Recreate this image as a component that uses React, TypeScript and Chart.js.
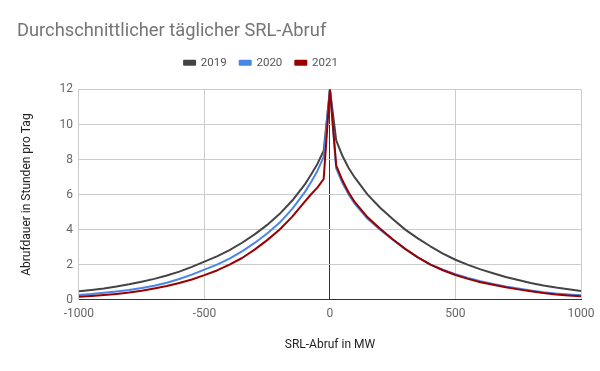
import React, { useEffect, useRef } from 'react';
import { Chart, registerables } from 'chart.js';

Chart.register(...registerables);

// SRL-Abruf in MW (x positions of the data points)
const xMW = [-1000, -950, -900, -850, -800, -750, -700, -650, -600, -550, -500, -450, -400, -350, -300, -250, -200, -150, -100, -75, -50, -25, 0, 25, 50, 75, 100, 150, 200, 250, 300, 350, 400, 450, 500, 550, 600, 650, 700, 750, 800, 850, 900, 950, 1000];
// Abrufdauer in Stunden pro Tag
const s2019 = [0.48, 0.555, 0.64, 0.75, 0.88, 1.03, 1.19, 1.38, 1.6, 1.87, 2.17, 2.47, 2.83, 3.25, 3.73, 4.27, 4.9, 5.66, 6.58, 7.15, 7.75, 8.5, 12, 9.1, 8.2, 7.5, 6.95, 6.0, 5.25, 4.6, 4.0, 3.5, 3.05, 2.63, 2.28, 1.99, 1.73, 1.51, 1.3, 1.12, 0.95, 0.81, 0.69, 0.59, 0.5];
const s2020 = [0.27, 0.32, 0.39, 0.47, 0.56, 0.67, 0.8, 0.97, 1.18, 1.43, 1.72, 2.0, 2.34, 2.76, 3.24, 3.78, 4.4, 5.18, 6.14, 6.72, 7.35, 8.15, 12, 7.5, 6.65, 6.0, 5.45, 4.62, 4.0, 3.42, 2.88, 2.42, 2.02, 1.71, 1.45, 1.24, 1.05, 0.9, 0.76, 0.64, 0.53, 0.43, 0.35, 0.3, 0.25];
const s2021 = [0.17, 0.21, 0.265, 0.33, 0.41, 0.51, 0.64, 0.78, 0.95, 1.15, 1.4, 1.67, 2.0, 2.38, 2.86, 3.4, 4.01, 4.74, 5.6, 6.02, 6.4, 6.89, 12, 7.65, 6.8, 6.1, 5.55, 4.7, 4.05, 3.45, 2.9, 2.42, 2.0, 1.68, 1.41, 1.19, 1.0, 0.85, 0.71, 0.59, 0.48, 0.38, 0.3, 0.245, 0.2];

const seriesNames = ['2019', '2020', '2021'];
const seriesValues = [s2019, s2020, s2021];
const seriesColors = ['#444444', '#4a86e8', '#990000'];

const xTicks = [-1000, -500, 0, 500, 1000];
const yTicks = [0, 2, 4, 6, 8, 10, 12];

const FONT = 'Roboto';

const legendShift = {
  id: 'legendShift',
  afterLayout(chart: any) {
    const lg = chart.legend;
    if (!lg) return;
    const dx = 261 - (lg.left + lg.right) / 2;
    lg.left += dx;
    lg.right += dx;
  },
};

export default function App() {
  const ref = useRef<HTMLCanvasElement | null>(null);

  useEffect(() => {
    if (!ref.current) return;
    const datasets = seriesNames.map((name, i) => ({
      label: name,
      data: xMW.map((x, j) => ({ x, y: seriesValues[i][j] })),
      borderColor: seriesColors[i],
      backgroundColor: seriesColors[i],
      borderWidth: 2,
      pointRadius: 0,
      pointHoverRadius: 0,
      fill: false,
      tension: 0,
      borderJoinStyle: 'round' as const,
      order: seriesNames.length - i,
    }));

    const chart = new Chart(ref.current, {
      type: 'line',
      data: { datasets },
      plugins: [legendShift],
      options: {
        responsive: false,
        animation: false,
        layout: { padding: { left: 17, right: 19, top: 0, bottom: 0 } },
        plugins: {
          title: {
            display: true,
            text: 'Durchschnittlicher täglicher SRL-Abruf',
            align: 'start',
            color: '#757575',
            font: { family: FONT, size: 18.3, weight: 'normal' },
            padding: { top: 20, bottom: 2 },
          },
          subtitle: {
            display: true,
            text: '',
            weight: 500,
            padding: 0,
            font: { size: 10, lineHeight: 1.1 },
          } as any,
          legend: {
            display: true,
            position: 'top',
            labels: {
              boxWidth: 11,
              boxHeight: 4,
              padding: 13,
              color: '#555555',
              font: { family: FONT, size: 11.5 },
              sort: (a: any, b: any) => a.datasetIndex - b.datasetIndex,
            },
          },
          tooltip: { enabled: false },
        },
        scales: {
          x: {
            type: 'linear',
            min: -1000,
            max: 1000,
            afterBuildTicks: (s: any) => {
              s.ticks = xTicks.map((v) => ({ value: v }));
            },
            afterFit: (s: any) => {
              s.paddingRight = 0;
            },
            grid: {
              color: (c: any) => (c.tick && c.tick.value === 0 ? '#333333' : '#cccccc'),
              drawTicks: false,
              lineWidth: 1,
            },
            border: { display: true, color: '#333333' },
            ticks: {
              padding: 7,
              color: '#666666',
              font: { family: FONT, size: 12 },
              maxRotation: 0,
              autoSkip: false,
              callback: (v: any) => String(v),
            },
            title: {
              display: true,
              text: 'SRL-Abruf in MW',
              color: '#222222',
              font: { family: FONT, size: 12 },
              padding: { top: 10, bottom: 18.5 },
            },
          },
          y: {
            type: 'linear',
            min: 0,
            max: 12,
            afterBuildTicks: (s: any) => {
              s.ticks = yTicks.map((v) => ({ value: v }));
            },
            grid: { color: '#cccccc', drawTicks: false, lineWidth: 1 },
            border: { display: true, color: '#cccccc' },
            ticks: {
              padding: 6,
              color: '#666666',
              font: { family: FONT, size: 12 },
              autoSkip: false,
              callback: (v: any) => String(v),
            },
            title: {
              display: true,
              text: 'Abrufdauer in Stunden pro Tag',
              color: '#222222',
              font: { family: FONT, size: 12 },
              padding: { top: 3, bottom: 19 },
            },
          },
        },
      },
    } as any);

    return () => chart.destroy();
  }, []);

  return (
    <div style={{ position: 'fixed', left: 0, top: 0, width: 600, height: 371, background: '#ffffff' }}>
      <canvas ref={ref} width={600} height={371} style={{ width: 600, height: 371, display: 'block' }} />
    </div>
  );
}
